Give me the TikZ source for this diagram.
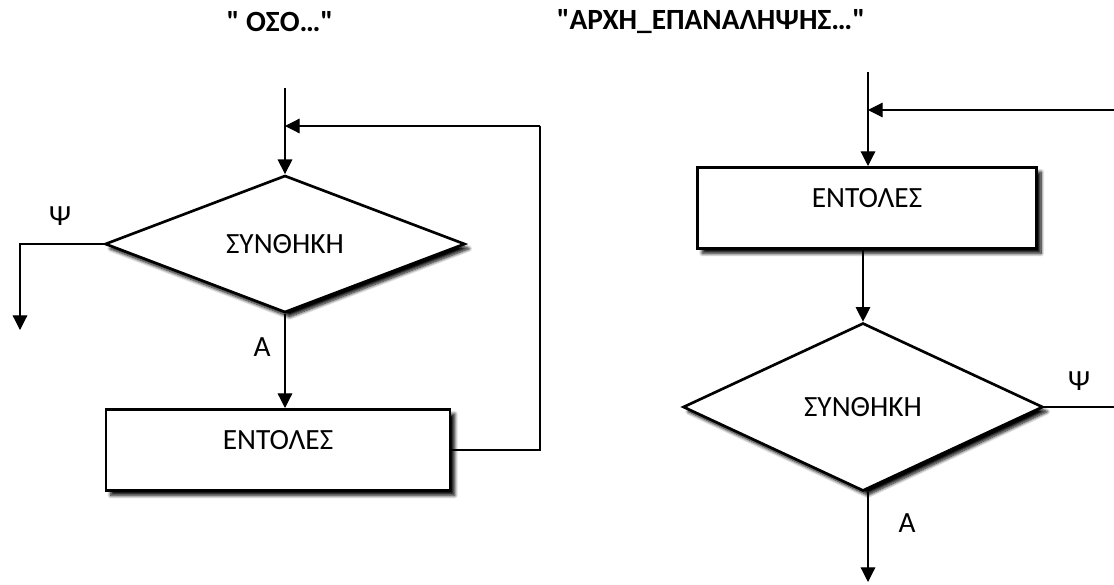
\documentclass[tikz,border=0pt]{standalone}
\usepackage{fontspec}
\setmainfont{Carlito}[Ligatures=TeXOff]
\usetikzlibrary{shapes.geometric,arrows.meta,shadows.blur}

\begin{document}
\begin{tikzpicture}[x=0.75pt,y=-0.75pt,
    font=\fontsize{22}{26}\selectfont,
    arr/.style={-{Triangle[length=11pt,width=11pt]},line width=0.9pt},
    ln/.style={line width=0.9pt},
    shad/.style={blur shadow={shadow xshift=3.5pt,shadow yshift=-3.5pt,shadow blur radius=2.5pt,shadow blur steps=8,shadow opacity=100}},
    decision/.style={diamond,draw,line width=2pt,fill=white,shad,inner sep=0pt,minimum width=270pt},
    process/.style={rectangle,draw,line width=2pt,fill=white,shad,text depth=15pt,minimum height=61pt},
    title/.style={font=\fontsize{22}{26}\selectfont\bfseries}]
  \useasboundingbox (0,0) rectangle (1114,585);

  % titles
  \node[title](Tleft) at (280,22){" ΟΣΟ…"};
  \node[title](Tright) at (711,22){"ΑΡΧΗ\_ΕΠΑΝΑΛΗΨΗΣ…"};

  % left: while loop
  \node[decision,minimum height=99pt](Ldec) at (285,244){ΣΥΝΘΗΚΗ};
  \node[process,minimum width=258pt](Lbox) at (278,450){ΕΝΤΟΛΕΣ};
  \coordinate(Lin) at (285,88);
  \coordinate(Lret) at (540,126);
  \coordinate(Lno) at (20,244);
  \coordinate(Lnoend) at (20,330);
  \draw[arr](Lin)--(Ldec.north);
  \draw[ln](Lbox.east)--(Lbox.east -| Lret)--(Lret);
  \draw[arr](Lret)--(Lret -| Lin);
  \draw[arr](Ldec.west)--(Lno)--(Lnoend);
  \draw[arr](Ldec.south)--(Ldec.south |- Lbox.north);
  \node(Lpsi) at (60,216){Ψ};
  \node(La) at (262,347){Α};

  % right: repeat loop
  \node[process,minimum width=254pt](Rbox) at (867,208){ΕΝΤΟΛΕΣ};
  \node[decision,minimum height=126pt](Rdec) at (863,407){ΣΥΝΘΗΚΗ};
  \coordinate(Rin) at (868,72);
  \coordinate(Rret) at (1114,110);
  \coordinate(Rno) at (1114,407);
  \coordinate(Rout) at (868,582);
  \draw[arr](Rin)--(Rin |- Rbox.north);
  \draw[arr](Rret)--(Rret -| Rin);
  \draw[arr](Rbox.south -| Rdec.north)--(Rdec.north);
  \draw[ln](Rdec.east)--(Rno);
  \draw[arr](Rdec.south -| Rout)--(Rout);
  \node(Rpsi) at (1079,381){Ψ};
  \node(Ra) at (907,523){Α};
\end{tikzpicture}
\end{document}
